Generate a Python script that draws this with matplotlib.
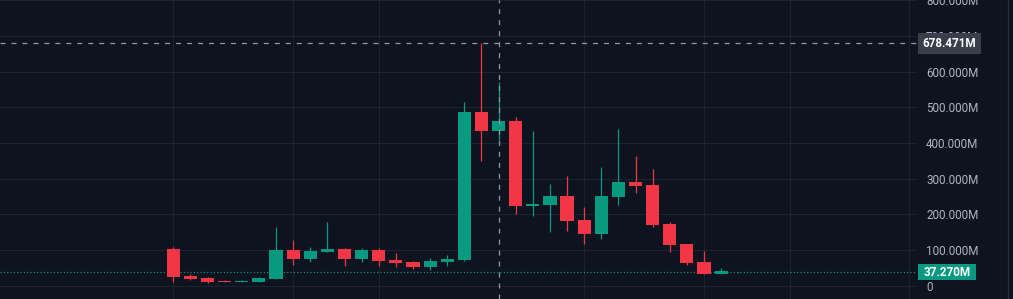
import matplotlib
matplotlib.use("Agg")
import matplotlib.pyplot as plt
from matplotlib.patches import Rectangle
from matplotlib.lines import Line2D
from matplotlib.transforms import blended_transform_factory

plt.rcParams["font.family"] = ["Roboto", "DejaVu Sans"]
plt.rcParams["lines.scale_dashes"] = False

# ---------------------------------------------
# candle data (values in millions)
# ---------------------------------------------
opens = [102.8, 27.2, 21.6, 14.0, 10.4, 10.4, 18.8, 100.0, 74.8, 95.2,
         102.8, 74.8, 100.0, 72.0, 66.4, 52.4, 66.4, 72.0, 486.5, 434.2,
         461.3, 224.1, 226.9, 251.3, 184.0, 145.7, 249.3, 290.5, 282.1, 173.7,
         116.0, 66.4, 33.6, 37.0]
highs = [108.4, 32.8, 24.4, 16.0, 16.0, 23.0, 165.3, 128.0, 109.2, 178.4,
         105.6, 105.6, 105.6, 92.4, 69.2, 77.6, 86.0, 515.4, 678.471, 571.4,
         472.5, 434.2, 284.9, 307.3, 221.3, 333.3, 438.1, 364.1, 327.7, 179.3,
         116.8, 98.0, 49.6, 37.6]
lows = [11.2, 16.0, 7.6, 9.0, 9.5, 9.5, 17.4, 58.0, 66.4, 95.2,
        55.2, 66.4, 55.2, 52.4, 47.6, 44.0, 55.2, 69.2, 349.3, 408.1,
        200.8, 196.1, 151.3, 154.1, 117.6, 131.6, 226.9, 260.5, 165.3, 95.2,
        58.8, 33.6, 33.6, 36.8]
closes = [25.2, 18.8, 10.4, 10.4, 14.0, 21.6, 100.0, 74.8, 97.2, 102.8,
          74.8, 100.0, 70.0, 64.4, 52.4, 69.2, 74.8, 486.5, 434.2, 461.3,
          224.1, 229.7, 251.3, 181.2, 145.7, 251.3, 290.5, 280.1, 170.0, 114.8,
          64.4, 33.6, 41.2, 37.27]

last_price = 37.27
cross_price = 678.471
cross_index = 19

price_ticks = [0, 100, 200, 300, 400, 500, 600, 700, 800]
tick_labels = ["0", "100.000M", "200.000M", "300.000M", "400.000M",
               "500.000M", "600.000M", "700.000M", "800.000M"]
time_lines = [0, 7, 12, 24, 31, 36, 43]

# ---------------------------------------------
# colours
# ---------------------------------------------
bg = "#0e1320"
grid_col = "#1c2230"
up_col = "#089981"
down_col = "#f23645"
text_col = "#b2b5be"

W, H = 1013, 299
pane_w = 917

fig = plt.figure(figsize=(W / 100, H / 100), dpi=100, facecolor=bg)
ax = fig.add_axes([0, 0, pane_w / W, 1])
ax.set_facecolor(bg)

for s in ax.spines.values():
    s.set_visible(False)

# grid
for t in price_ticks:
    ax.axhline(t, color=grid_col, lw=0.8, zorder=0)
for t in time_lines:
    ax.axvline(t, color=grid_col, lw=0.8, zorder=0)

# candles
body_w = 0.77
for i in range(len(opens)):
    o, h, l, c = opens[i], highs[i], lows[i], closes[i]
    col = up_col if c >= o else down_col
    ax.vlines(i, l, h, color=col, lw=0.9, zorder=2)
    bottom = min(o, c)
    height = max(abs(c - o), 2.5)
    ax.bar(i, height, bottom=bottom, width=body_w, color=col,
           edgecolor="none", zorder=3)

# last price dotted line
ax.axhline(last_price, color=up_col, lw=0.9, ls=(0, (0.8, 1.6)), zorder=1)

# crosshair
ax.axhline(cross_price, color="#9598a1", lw=0.9, ls=(0, (3.6, 4.3)), zorder=4)
ax.axvline(cross_index, color="#9598a1", lw=0.9, ls=(0, (3.6, 4.3)), zorder=4)

ax.set_xlim(-173.3 / 17.12, (pane_w - 173.3) / 17.12)
ax.set_ylim(-37.25, 800.3)
ax.set_xticks([])

ax.yaxis.tick_right()
ax.set_yticks(price_ticks)
ax.set_yticklabels(tick_labels)
ax.tick_params(axis="y", length=0, pad=6.5, labelcolor=text_col, labelsize=8.4)

# price scale border
fig.add_artist(Line2D([1008 / W, 1008 / W], [0, 1], transform=fig.transFigure,
                      color="#2a2e39", lw=0.9))

# price labels on the scale
px = 837.55 / 299  # data units per pixel
tr = blended_transform_factory(fig.transFigure, ax.transData)


def price_box(value, text, face, x0, x1, hpx):
    rect = Rectangle((x0 / W, value - hpx / 2 * px), (x1 - x0) / W, hpx * px,
                     transform=tr, facecolor=face, edgecolor="none", zorder=5)
    fig.add_artist(rect)
    fig.text((x0 + x1) / 2 / W, value, text, transform=tr, ha="center",
             va="center", color="white", fontsize=8.4, fontweight="bold",
             zorder=6)


price_box(cross_price, "678.471M", "#3a3e4a", 918, 981, 21)
price_box(last_price, "37.270M", up_col, 918, 976, 16)

fig.savefig("out.png", dpi=100, facecolor=bg)
